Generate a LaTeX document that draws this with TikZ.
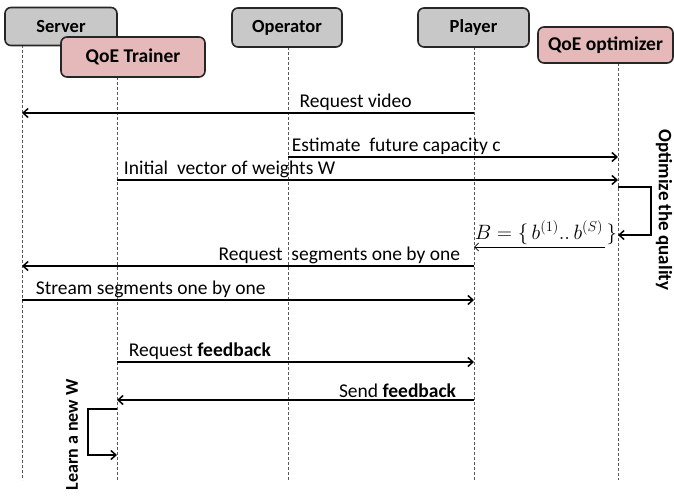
\documentclass[tikz,border=0pt]{standalone}
\usepackage{fontspec}
\setmainfont{Carlito}
\usetikzlibrary{arrows.meta}

\definecolor{boxgray}{RGB}{200,200,200}
\definecolor{boxpink}{RGB}{229,185,185}

\begin{document}
\begin{tikzpicture}[x=1pt,y=-1pt,
    actor/.style={draw=black!85,line width=1.6pt,rounded corners=6pt,fill=boxgray,
        inner sep=0pt,font=\fontsize{18.5}{20}\selectfont\bfseries},
    qoe/.style={actor,fill=boxpink,font=\fontsize{19.5}{20}\selectfont\bfseries},
    life/.style={dash pattern=on 3pt off 2pt,black!65,line width=.8pt},
    msg/.style={line width=1.8pt,-{Straight Barb[length=5pt,width=9pt,line width=1.5pt]}},
    thinmsg/.style={line width=.8pt,-{Straight Barb[length=4pt,width=8pt]}},
    loopy/.style={line width=2.4pt,-{Straight Barb[length=5pt,width=9pt,line width=1.5pt]}},
    lbl/.style={font=\fontsize{19.5}{22}\selectfont,inner sep=1pt},
    side/.style={font=\fontsize{19}{22}\selectfont\bfseries,inner sep=0pt}]
    \useasboundingbox (0,0) rectangle (674,498);
    \coordinate (bottom) at (0,480);
    % actors and their lifelines
    \coordinate (server-l) at (22,45);
    \coordinate (trainer-l) at (117,77);
    \coordinate (operator-l) at (288,47);
    \coordinate (player-l) at (474,47);
    \coordinate (optimizer-l) at (618,63);
    \draw[life] (server-l) -- (server-l |- bottom);
    \draw[life] (trainer-l) -- (trainer-l |- bottom);
    \draw[life] (operator-l) -- (operator-l |- bottom);
    \draw[life] (player-l) -- (player-l |- bottom);
    \draw[life] (optimizer-l) -- (optimizer-l |- bottom);
    \node[actor,minimum width=112pt,minimum height=38pt] (server) at (61,26.5) {Server};
    \node[qoe,minimum width=144pt,minimum height=40pt] (trainer) at (133,57) {QoE Trainer};
    \node[actor,minimum width=110pt,minimum height=39pt] (operator) at (287,27.5) {Operator};
    \node[actor,minimum width=111pt,minimum height=39pt] (player) at (473.5,27.5) {Player};
    \node[qoe,minimum width=135pt,minimum height=36pt] (optimizer) at (605.5,45) {QoE optimizer};
    % messages
    \draw[msg] (player-l |- 0,113) -- node[lbl,above,pos=.262] {Request video} (server-l |- 0,113);
    \draw[msg] (operator-l |- 0,157) -- node[lbl,pos=0,anchor=south west,xshift=2pt] {Estimate\ \ future capacity c} (optimizer-l |- 0,157);
    \draw[msg] (trainer-l |- 0,180) -- node[lbl,pos=0,anchor=south west,xshift=5pt] {Initial\ \ vector of weights W} (optimizer-l |- 0,180);
    \draw[loopy] (optimizer-l |- 0,187) -| (651,235) -- (optimizer-l |- 0,235);
    \node[side,rotate=-90] (optimize) at (664,210) {Optimize the quality};
    \draw[thinmsg,shorten <=13pt] (optimizer-l |- 0,247) -- node[lbl,above,inner sep=2pt,font=\fontsize{21}{22}\selectfont] {$B=\{\,b^{(1)}..\,b^{(S)}\,\}$} (player-l |- 0,247);
    \draw[msg] (player-l |- 0,266) -- node[lbl,pos=0,anchor=south east,xshift=-12pt] {Request\ \ segments one by one} (server-l |- 0,266);
    \draw[msg] (server-l |- 0,300) -- node[lbl,pos=0,anchor=south west,xshift=12pt] {Stream segments one by one} (player-l |- 0,300);
    \draw[msg] (trainer-l |- 0,362) -- node[lbl,pos=0,anchor=south west,xshift=10pt] {Request \textbf{feedback}} (player-l |- 0,362);
    \draw[msg] (player-l |- 0,400) -- node[lbl,pos=0,anchor=south east,xshift=-16pt] {Send \textbf{feedback}} (trainer-l |- 0,400);
    \draw[msg] (trainer-l |- 0,409) -| (88,455) -- (trainer-l |- 0,455);
    \node[side,font=\fontsize{18}{20}\selectfont\bfseries,rotate=90] (learn) at (72,435) {Learn a new W};
\end{tikzpicture}
\end{document}
